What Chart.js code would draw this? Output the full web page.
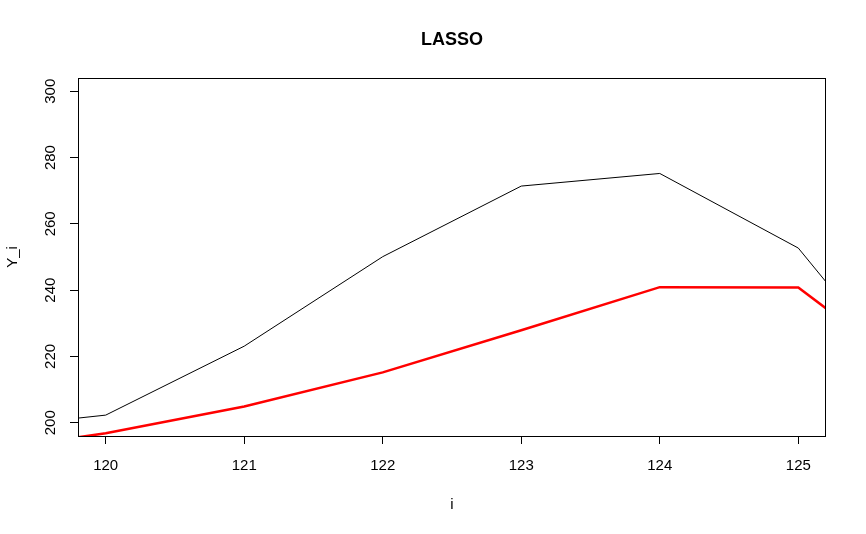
<!DOCTYPE html>
<html>
<head>
<meta charset="utf-8">
<script src="https://cdn.jsdelivr.net/npm/chart.js@4"></script>
<style>
  html, body { margin: 0; padding: 0; background: #fff; }
  canvas { display: block; }
</style>
</head>
<body>
<canvas id="lassoChart" width="866" height="534"></canvas>
<script>
// values
const iValues = [119, 120, 121, 122, 123, 124, 125, 126];
const yObserved = [197.8, 202.3, 223.1, 250.1, 271.4, 275.2, 252.7, 201.7];
const yLasso = [191, 196.8, 204.9, 215.2, 227.9, 240.9, 240.8, 209.4];
const xTicks = [120, 121, 122, 123, 124, 125];
const yTicks = [200, 220, 240, 260, 280, 300];
const chartTitle = "LASSO";

Chart.defaults.font.family = "'Liberation Sans', Arial, sans-serif";
Chart.defaults.color = "#000";

const toPoints = ys => iValues.map((x, k) => ({ x: x, y: ys[k] }));

// box round the plot, title over the plot region and rotated y tick labels, like base R
const rStyle = {
  id: "rStyle",
  afterDraw(chart) {
    const { ctx, chartArea: a, scales } = chart;
    ctx.save();
    ctx.strokeStyle = "#000";
    ctx.lineWidth = 1;
    ctx.strokeRect(a.left + 0.5, a.top + 0.5, a.right - a.left - 1, a.bottom - a.top);
    ctx.fillStyle = "#000";
    ctx.textAlign = "center";
    ctx.textBaseline = "middle";
    ctx.font = "bold 18px 'Liberation Sans', Arial, sans-serif";
    ctx.fillText(chartTitle, (a.left + a.right) / 2, 40);
    ctx.font = "15px 'Liberation Sans', Arial, sans-serif";
    yTicks.forEach(v => {
      const py = scales.y.getPixelForValue(v);
      ctx.save();
      ctx.translate(51, py);
      ctx.rotate(-Math.PI / 2);
      ctx.fillText(String(v), 0, 0);
      ctx.restore();
    });
    ctx.restore();
  }
};

new Chart(document.getElementById("lassoChart"), {
  type: "line",
  data: {
    datasets: [{
      label: "Y_i",
      data: toPoints(yObserved),
      borderColor: "#000",
      borderWidth: 1,
      pointRadius: 0,
      tension: 0,
      clip: 0
    }, {
      label: "LASSO",
      data: toPoints(yLasso),
      borderColor: "#ff0000",
      borderWidth: 2.5,
      pointRadius: 0,
      tension: 0,
      clip: 0
    }]
  },
  options: {
    responsive: false,
    animation: false,
    devicePixelRatio: 1,
    layout: { padding: { left: 0, right: 40, top: 78, bottom: 0 } },
    plugins: {
      legend: { display: false },
      tooltip: { enabled: false },
      title: { display: false }
    },
    scales: {
      x: {
        type: "linear",
        min: 119.8,
        max: 125.2,
        afterFit: s => { s.height = 98; },
        afterBuildTicks: s => { s.ticks = xTicks.map(v => ({ value: v })); },
        ticks: { font: { size: 15 }, padding: 13, color: "#000", includeBounds: false },
        grid: { drawOnChartArea: false, drawTicks: true, tickLength: 8, color: "#000" },
        border: { display: false },
        title: { display: true, text: "i", font: { size: 15 }, padding: { top: 0, bottom: 20 } }
      },
      y: {
        min: 196,
        max: 304,
        afterFit: s => { s.width = 78; },
        afterBuildTicks: s => { s.ticks = yTicks.map(v => ({ value: v })); },
        ticks: { display: false, includeBounds: false },
        grid: { drawOnChartArea: false, drawTicks: true, tickLength: 8, color: "#000" },
        border: { display: false },
        title: { display: true, text: "Y_i", font: { size: 15 }, padding: { top: 4, bottom: 0 } }
      }
    }
  },
  plugins: [rStyle]
});
</script>
</body>
</html>
